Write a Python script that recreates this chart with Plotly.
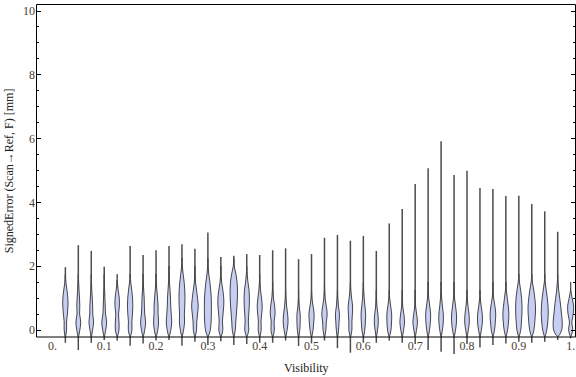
import plotly.graph_objects as go

# ---------------- data ----------------
visibility = [0.025, 0.05, 0.075, 0.1, 0.125, 0.15, 0.175, 0.2, 0.225, 0.25,
              0.275, 0.3, 0.325, 0.35, 0.375, 0.4, 0.425, 0.45, 0.475, 0.5,
              0.525, 0.55, 0.575, 0.6, 0.625, 0.65, 0.675, 0.7, 0.725, 0.75,
              0.775, 0.8, 0.825, 0.85, 0.875, 0.9, 0.925, 0.95, 0.975, 1.0]

err_max = [1.97, 2.66, 2.48, 1.98, 1.57, 2.63, 2.35, 2.50, 2.63, 2.69,
           2.55, 3.06, 2.29, 2.33, 2.38, 2.35, 2.50, 2.56, 2.22, 2.38,
           2.89, 2.98, 2.80, 2.95, 2.48, 3.34, 3.79, 4.58, 5.07, 5.92,
           4.86, 4.99, 4.45, 4.42, 4.20, 4.21, 3.95, 3.72, 3.08, 1.07]

err_min = [-0.40, -0.63, -0.40, -0.31, -0.33, -0.49, -0.42, -0.33, -0.31, -0.49,
           -0.37, -0.47, -0.35, -0.47, -0.44, -0.40, -0.40, -0.33, -0.50, -0.42,
           -0.33, -0.57, -0.71, -0.40, -0.40, -0.33, -0.40, -0.44, -0.63, -0.68,
           -0.75, -0.44, -0.55, -0.47, -0.42, -0.37, -0.40, -0.37, -0.31, -0.26]

# density profile (relative half-width) at these error levels
levels = [-0.2, 0.0, 0.25, 0.5, 0.75, 1.0, 1.25, 1.5, 1.75, 2.0, 2.25]
density = [
    [0, 1.2, 1.2, 2.0, 2.6, 2.5, 1.6, 0.5, 0, 0, 0],
    [0, 1.5, 2.4, 1.3, 1.5, 1.2, 0.7, 0.3, 0, 0, 0],
    [0, 1.3, 2.3, 1.5, 1.4, 1.0, 0.5, 0.2, 0, 0, 0],
    [0, 1.5, 2.4, 1.3, 1.0, 0.7, 0.4, 0.1, 0, 0, 0],
    [0, 1.8, 1.8, 1.4, 2.2, 2.1, 1.0, 0.2, 0, 0, 0],
    [0, 1.8, 1.7, 2.3, 2.7, 2.4, 1.6, 0.6, 0, 0, 0],
    [0, 1.6, 2.5, 1.6, 1.3, 1.1, 0.6, 0.2, 0, 0, 0],
    [0, 1.7, 2.5, 2.0, 2.0, 1.5, 0.8, 0.3, 0, 0, 0],
    [0, 1.8, 2.7, 2.2, 1.7, 1.5, 1.0, 0.5, 0.1, 0, 0],
    [0, 1.6, 2.6, 2.4, 2.8, 3.0, 2.8, 2.2, 1.2, 0.3, 0],
    [0, 1.6, 1.8, 2.6, 3.3, 2.6, 1.6, 0.6, 0.1, 0, 0],
    [0, 2.4, 3.2, 3.5, 3.5, 3.4, 2.8, 2.0, 0.9, 0.2, 0],
    [0, 2.0, 1.6, 2.2, 2.9, 2.9, 2.0, 0.8, 0.1, 0, 0],
    [0, 1.5, 2.0, 2.6, 3.2, 3.6, 3.7, 3.3, 2.2, 0.5, 0],
    [0, 2.0, 1.6, 2.0, 2.5, 2.7, 2.3, 1.2, 0.4, 0, 0],
    [0, 1.5, 1.3, 2.0, 2.5, 1.8, 0.8, 0.2, 0, 0, 0],
    [0, 1.7, 1.4, 2.4, 2.0, 0.8, 0.2, 0, 0, 0, 0],
    [0, 1.5, 2.4, 2.0, 1.0, 0.3, 0, 0, 0, 0, 0],
    [0, 1.2, 1.6, 1.6, 0.6, 0.1, 0, 0, 0, 0, 0],
    [0, 1.5, 2.2, 2.6, 1.5, 0.4, 0, 0, 0, 0, 0],
    [0, 1.4, 1.8, 2.7, 1.8, 0.6, 0.1, 0, 0, 0, 0],
    [0, 1.1, 1.6, 2.0, 1.0, 0.3, 0, 0, 0, 0, 0],
    [0, 1.5, 1.5, 2.0, 2.2, 1.2, 0.4, 0, 0, 0, 0],
    [0, 1.4, 2.0, 2.3, 1.6, 0.8, 0.3, 0, 0, 0, 0],
    [0, 1.2, 2.0, 1.6, 0.6, 0.1, 0, 0, 0, 0, 0],
    [0, 1.7, 2.3, 2.4, 1.4, 0.4, 0, 0, 0, 0, 0],
    [0, 1.4, 2.3, 1.6, 0.5, 0.1, 0, 0, 0, 0, 0],
    [0, 1.3, 2.3, 1.4, 0.4, 0.05, 0, 0, 0, 0, 0],
    [0, 1.4, 2.2, 2.5, 1.6, 0.6, 0.1, 0, 0, 0, 0],
    [0, 1.3, 2.2, 2.2, 1.3, 0.6, 0.1, 0, 0, 0, 0],
    [0, 1.5, 2.4, 2.4, 1.5, 0.5, 0.1, 0, 0, 0, 0],
    [0, 1.3, 2.3, 2.0, 1.0, 0.3, 0, 0, 0, 0, 0],
    [0, 1.4, 2.4, 2.3, 1.2, 0.3, 0, 0, 0, 0, 0],
    [0, 1.6, 2.4, 2.8, 2.0, 0.7, 0.1, 0, 0, 0, 0],
    [0, 1.7, 2.6, 3.0, 2.4, 1.4, 0.4, 0, 0, 0, 0],
    [0, 1.9, 2.6, 3.1, 3.2, 2.8, 1.8, 0.6, 0, 0, 0],
    [0, 2.1, 3.0, 3.6, 3.7, 3.0, 2.0, 0.6, 0, 0, 0],
    [0, 2.0, 3.0, 3.5, 3.3, 2.6, 1.5, 0.4, 0, 0, 0],
    [0, 4.0, 4.5, 3.8, 3.0, 2.0, 1.0, 0.3, 0, 0, 0],
    [0, 2.0, 1.2, 2.6, 3.0, 1.5, 0.2, 0, 0, 0, 0],
]

x_tickvals = [0.0, 0.1, 0.2, 0.3, 0.4, 0.5, 0.6, 0.7, 0.8, 0.9, 1.0]
x_ticktext = ["0.", "0.1", "0.2", "0.3", "0.4", "0.5", "0.6", "0.7", "0.8", "0.9", "1."]
y_tickvals = [0, 2, 4, 6, 8, 10]
y_minorvals = [0.5, 1, 1.5, 2.5, 3, 3.5, 4.5, 5, 5.5, 6.5, 7, 7.5, 8.5, 9, 9.5]

# ---------------- layout geometry ----------------
W, H = 576, 377
ML, MR, MT, MB = 36, 0, 2, 16
X0_PX, X_PER = 52.4, 518.25     # pixel of x=0 and px per unit x
Y0_PX, Y_PER = 330.0, 31.9      # pixel of y=0 and px per unit y
FRAME_L, FRAME_R, FRAME_T, FRAME_B = 36.5, 575.5, 4.5, 337.0
WIDTH_PX = 1.0                  # px of half width per density unit


def px2x(px):
    return (px - X0_PX) / X_PER


def py2y(py):
    return (Y0_PX - py) / Y_PER


xr = [px2x(ML), px2x(W - MR)]
yr = [py2y(H - MB), py2y(MT)]
plot_h = H - MB - MT

FONT = "Liberation Serif, Times New Roman, serif"
FILL = "rgb(198,206,245)"
EDGE = "rgb(70,70,70)"
TICKCOL = "#4d4030"

fig = go.Figure()

# tails (min to max)
for x, lo, hi in zip(visibility, err_min, err_max):
    fig.add_trace(go.Scatter(x=[x, x], y=[lo, hi], mode="lines",
                             line=dict(color="rgba(45,45,45,0.85)", width=1.5),
                             hoverinfo="skip", showlegend=False))

# violin bodies
for x, dens in zip(visibility, density):
    last = max(j for j, d in enumerate(dens) if d > 0)
    top = min(last + 1, len(levels) - 1)
    ys = levels[:top + 1]
    ws = dens[:top + 1]
    right = [x + w * WIDTH_PX / X_PER for w in ws]
    left = [x - w * WIDTH_PX / X_PER for w in ws]
    xs = right + left[::-1][1:]
    yy = ys + ys[::-1][1:]
    fig.add_trace(go.Scatter(x=xs, y=yy, mode="lines", fill="toself",
                             fillcolor=FILL,
                             line=dict(color=EDGE, width=1, shape="spline", smoothing=1.0),
                             hoverinfo="skip", showlegend=False))

# frame
fig.add_shape(type="rect", xref="x", yref="y",
              x0=px2x(FRAME_L), x1=px2x(FRAME_R), y0=py2y(FRAME_B), y1=py2y(FRAME_T),
              line=dict(color="black", width=1), fillcolor="rgba(0,0,0,0)", layer="above")

fig.update_layout(
    width=W, height=H,
    margin=dict(l=ML, r=MR, t=MT, b=MB, pad=0, autoexpand=False),
    paper_bgcolor="white", plot_bgcolor="white",
    font=dict(family=FONT, size=12, color="#333333"),
    xaxis=dict(range=xr, showgrid=False, zeroline=False, showline=False,
               anchor="free", position=(H - MB - FRAME_B) / plot_h,
               tickmode="array", tickvals=x_tickvals, ticktext=x_ticktext,
               ticks="", tickfont=dict(family=FONT, size=12, color=TICKCOL)),
    yaxis=dict(range=yr, showgrid=False, zeroline=False, showline=False,
               tickmode="array", tickvals=y_tickvals,
               ticks="inside", ticklen=5, tickwidth=1, tickcolor="black",
               mirror="ticks",
               minor=dict(tickmode="array", tickvals=y_minorvals, ticks="inside",
                          ticklen=3, tickwidth=1, tickcolor="black"),
               tickfont=dict(family=FONT, size=12, color=TICKCOL)),
    annotations=[
        dict(text="Visibility", xref="paper", yref="paper",
             x=((FRAME_L + FRAME_R) / 2 - ML) / (W - ML - MR),
             y=(H - MB - 368.5) / plot_h, xanchor="center", yanchor="middle",
             showarrow=False, font=dict(family=FONT, size=12, color="#222222")),
        dict(text="SignedError (Scan→Ref, F) [mm]", xref="paper", yref="paper",
             x=0, xshift=8.5 - ML, y=(H - MB - (FRAME_T + FRAME_B) / 2) / plot_h,
             xanchor="center", yanchor="middle", textangle=-90,
             showarrow=False, font=dict(family=FONT, size=12, color="#222222")),
    ],
)

fig.write_html("out.html",
               config={"displayModeBar": False, "staticPlot": True},
               post_script="document.body.style.margin='0px';"
                           "document.body.style.overflow='hidden';")
